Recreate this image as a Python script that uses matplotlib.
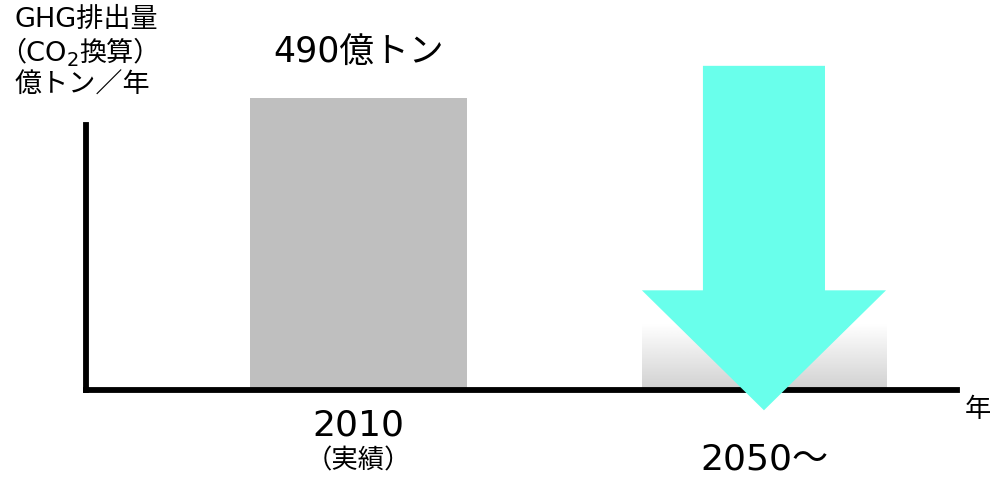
import matplotlib.pyplot as plt
import matplotlib.transforms as mtransforms
import numpy as np

plt.rcParams['font.family'] = ['DejaVu Sans', 'Noto Sans CJK JP']

# data
years = ['2010', '2050～']
sub_labels = ['（実績）', '']
emissions = [490]          # 億トン (2010 actual)
value_label = '490億トン'
arrow_top = 545            # arrow shaft top (same units as y axis)
arrow_head = 167           # where the arrow head starts
arrow_tip = -35            # tip of the arrow, below the axis
fade_top = 111             # top of the faded bar under the arrow

W, H = 990, 478
fig = plt.figure(figsize=(W / 100, H / 100), dpi=100)
ax = fig.add_axes([85.5 / W, (H - 389.5) / H, (957 - 85.5) / W, (389.5 - 125) / H])

for s in ['top', 'right']:
    ax.spines[s].set_visible(False)
for s in ['left', 'bottom']:
    ax.spines[s].set_linewidth(4.2)
    ax.spines[s].set_capstyle('projecting')
ax.set_xticks([])
ax.set_yticks([])

x = np.arange(len(years))

# 2010 bar
ax.bar(x[0], emissions[0], width=0.535, color='#bfbfbf', clip_on=False, zorder=2)

# faded bar under arrow
grad = np.linspace(1.0, 0.82, 100).reshape(-1, 1)
ax.imshow(grad, cmap='gray', vmin=0, vmax=1, aspect='auto',
          extent=[x[1] - 0.301, x[1] + 0.301, 0, fade_top], zorder=1)

# arrow
shaft_w, head_w = 0.301, 0.602
pts = [(x[1] - shaft_w / 2, arrow_top), (x[1] + shaft_w / 2, arrow_top),
       (x[1] + shaft_w / 2, arrow_head), (x[1] + head_w / 2, arrow_head),
       (x[1], arrow_tip), (x[1] - head_w / 2, arrow_head),
       (x[1] - shaft_w / 2, arrow_head)]
ax.add_patch(plt.Polygon(pts, closed=True, facecolor='#69ffeb', edgecolor='none',
                         clip_on=False, zorder=4))

ax.set_xlim(-0.673, 1.476)
ax.set_ylim(0, 490 * 264.5 / 291)

# labels
tr = mtransforms.blended_transform_factory(ax.transData, fig.transFigure)
ax.text(x[0], 1 - 53 / H, value_label, transform=tr, ha='center', va='center', fontsize=25)
ax.text(x[0], 1 - 426 / H, years[0], transform=tr, ha='center', va='center', fontsize=26)
ax.text(x[0], 1 - 461 / H, sub_labels[0], transform=tr, ha='center', va='center', fontsize=19)
ax.text(x[1], 1 - 460 / H, years[1], transform=tr, ha='center', va='center', fontsize=26)

# y axis title
fig.text(86 / W, 1 - 20 / H, 'GHG排出量', ha='center', va='center', fontsize=19.5)
fig.text(67 / W, 1 - 53 / H, '（CO', ha='right', va='center', fontsize=19.5)
fig.text(73 / W, 1 - 60 / H, '2', ha='center', va='center', fontsize=14)
fig.text(79 / W, 1 - 53 / H, '換算）', ha='left', va='center', fontsize=19.5)
fig.text(82 / W, 1 - 86 / H, '億トン／年', ha='center', va='center', fontsize=19.5)

fig.text(978 / W, 1 - 410 / H, '年', ha='center', va='center', fontsize=19)

fig.savefig('out.png', dpi=100)
